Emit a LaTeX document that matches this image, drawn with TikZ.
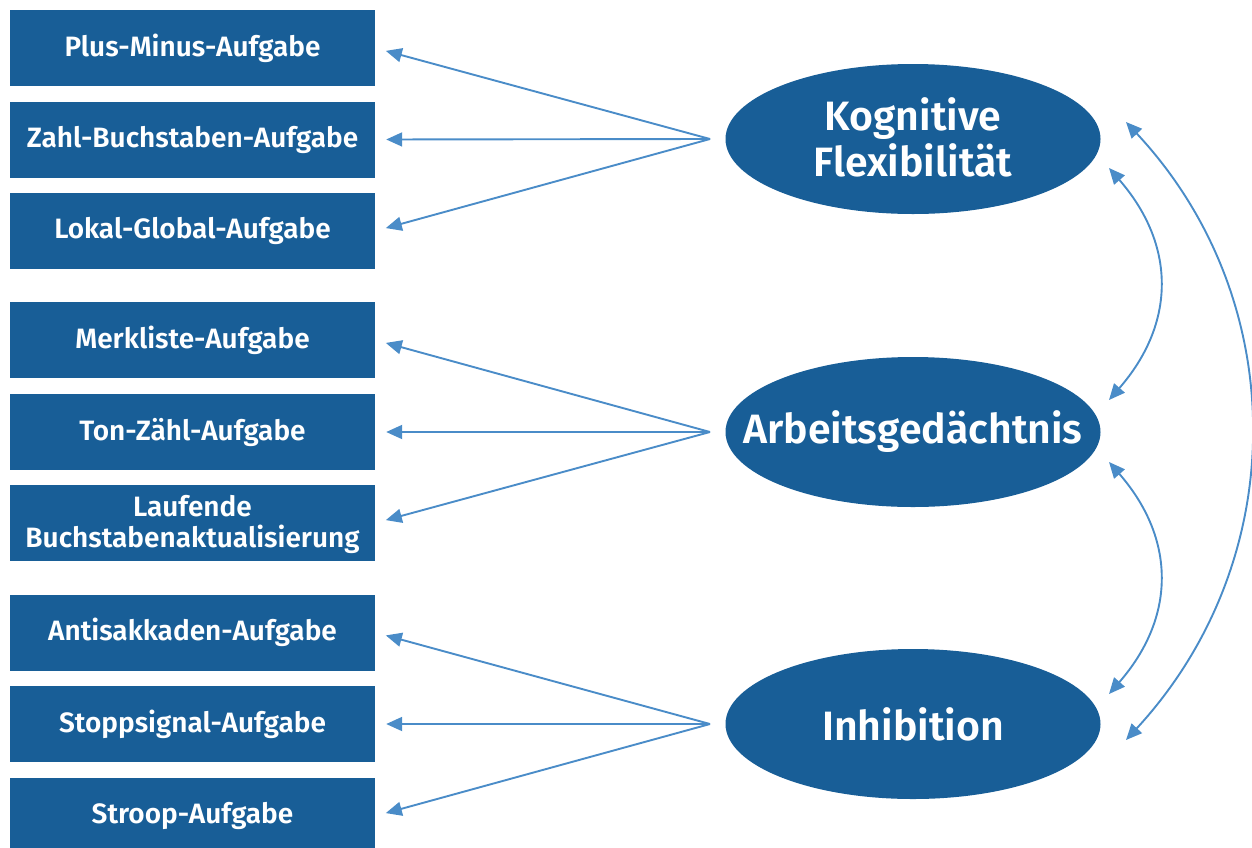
\documentclass[tikz,border=0pt]{standalone}
\usepackage{fontspec}
\setmainfont{Fira Sans}[BoldFont={Fira Sans SemiBold}]
\usetikzlibrary{arrows.meta,shapes.geometric}
\definecolor{boxblue}{RGB}{24,94,151}
\definecolor{arrblue}{RGB}{74,140,200}
\begin{document}
\begin{tikzpicture}[x=1pt,y=-1pt,
  task/.style={fill=boxblue,draw=none,minimum width=365pt,minimum height=76pt,inner sep=0pt,
    text=white,font=\fontsize{28}{29}\selectfont\bfseries,align=center},
  factor/.style={ellipse,fill=boxblue,draw=none,minimum width=375pt,minimum height=150pt,inner sep=0pt,
    text=white,font=\fontsize{41}{46}\selectfont\bfseries,align=center},
  conn/.style={draw=arrblue,line width=1.9pt,-{Triangle[length=16pt,width=14pt]}},
  dconn/.style={draw=arrblue,line width=1.9pt,{Triangle[length=16pt,width=14pt]}-{Triangle[length=16pt,width=14pt]}}]
\useasboundingbox (0,0) rectangle (1252,847);
\node[task] (t1) at (192.5,48) {Plus-Minus-Aufgabe};
\node[task] (t2) at (192.5,139.5) {Zahl-Buchstaben-Aufgabe};
\node[task] (t3) at (192.5,231) {Lokal-Global-Aufgabe};
\node[task] (t4) at (192.5,340) {Merkliste-Aufgabe};
\node[task] (t5) at (192.5,432) {Ton-Zähl-Aufgabe};
\node[task] (t6) at (192.5,523) {\makebox[0pt]{\raisebox{-3pt}[\height][\depth]{\begin{tabular}{@{}c@{}}Laufende\\Buchstabenaktualisierung\end{tabular}}}};
\node[task] (t7) at (192.5,632.5) {Antisakkaden-Aufgabe};
\node[task] (t8) at (192.5,724) {Stoppsignal-Aufgabe};
\node[task] (t9) at (192.5,816) {Stroop-Aufgabe};
\node[factor] (k) at (913,139) {\makebox[0pt]{\raisebox{-5pt}[\height][\depth]{\begin{tabular}{@{}c@{}}Kognitive\\Flexibilität\end{tabular}}}};
\node[factor] (a) at (913,432) {\makebox[0pt]{Arbeitsgedächtnis}};
\node[factor] (i) at (913,724) {Inhibition};
\coordinate (ks) at (710,139);
\coordinate (as) at (710,432);
\coordinate (is) at (710,724);
\foreach \s/\t in {ks/t1,ks/t2,ks/t3,as/t4,as/t5,as/t6,is/t7,is/t8,is/t9}
  \draw[conn,shorten >=11pt] (\s) -- (\t.east);
\coordinate (k1) at (1109,168);
\coordinate (a1) at (1109,400);
\coordinate (a2) at (1109,462);
\coordinate (i1) at (1109,694);
\coordinate (k2) at (1126,122);
\coordinate (i2) at (1126,740);
\draw[dconn] (k1) .. controls (1176,245) and (1176,323) .. (a1);
\draw[dconn] (a2) .. controls (1176,539) and (1176,617) .. (i1);
\draw[dconn] (k2) .. controls (1292,300) and (1292,560) .. (i2);
\end{tikzpicture}
\end{document}
